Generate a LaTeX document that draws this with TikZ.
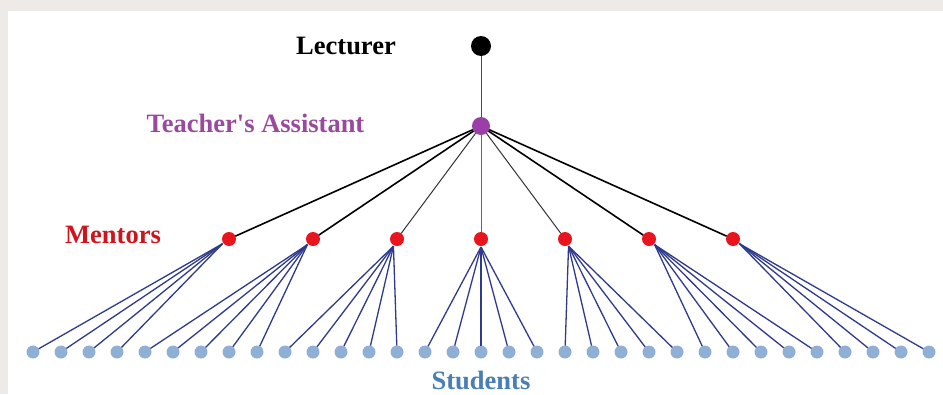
\documentclass[tikz,border=0pt]{standalone}
\usepackage{fontspec}
\setmainfont{Liberation Serif}
\usetikzlibrary{calc}
\definecolor{bandgray}{HTML}{EDEAE7}
\definecolor{tapurple}{HTML}{9B3FA8}
\definecolor{tatext}{HTML}{9A4A9E}
\definecolor{mentred}{HTML}{E8141E}
\definecolor{menttext}{HTML}{D0141E}
\definecolor{studblue}{HTML}{8FB0D4}
\definecolor{studtext}{HTML}{4A7FB5}
\definecolor{linkblue}{HTML}{2E3A8C}
\begin{document}
\begin{tikzpicture}[x=1pt,y=-1pt,
  dot/.style={circle,inner sep=0pt,outer sep=0pt},
  lect/.style={dot,fill=black,minimum size=20pt},
  ta/.style={dot,fill=tapurple,minimum size=18pt},
  mentor/.style={dot,fill=mentred,minimum size=14pt},
  student/.style={dot,fill=studblue,minimum size=13pt},
  lbl/.style={font=\fontsize{26.5}{30}\selectfont\bfseries,anchor=base,inner sep=0pt},
  tamain/.style={black,line width=1.6pt},
  tainner/.style={black!80,line width=1pt},
  slink/.style={linkblue,line width=1.3pt}]
\useasboundingbox (0,0) rectangle (943,394);
\fill[white] (0,0) rectangle (943,394);
\fill[bandgray] (0,0) rectangle (943,11);
\fill[bandgray] (0,0) rectangle (8,394);

\node[lect] (L) at (481,46) {};
\node[ta] (T) at (481,126) {};
\draw[black!70,line width=1pt] (L) -- (T);

\foreach \i in {1,...,7}{
  \node[mentor] (m\i) at ({229+84*(\i-1)},239) {};
}
\foreach \i in {1,...,33}{
  \node[student] (s\i) at ({33+28*(\i-1)},352) {};
}

\foreach \i in {1,2,6,7}{ \draw[tamain] (T) -- (m\i); }
\foreach \i in {3,5}{ \draw[tainner] (T) -- (m\i); }
\draw[black!60,line width=1pt] (T) -- (m4);

% fan-out points just below each mentor, toward the middle of its group
\coordinate (c1) at ($(m1)!8pt!($(s2)!0.5!(s3)$)$);
\coordinate (c2) at ($(m2)!8pt!(s7)$);
\coordinate (c3) at ($(m3)!8pt!(s12)$);
\coordinate (c4) at ($(m4)!8pt!(s17)$);
\coordinate (c5) at ($(m5)!8pt!(s22)$);
\coordinate (c6) at ($(m6)!8pt!(s27)$);
\coordinate (c7) at ($(m7)!8pt!($(s31)!0.5!(s32)$)$);

\foreach \s in {1,...,4}{ \draw[slink] (c1) -- (s\s); }
\foreach \s in {5,...,9}{ \draw[slink] (c2) -- (s\s); }
\foreach \s in {10,...,14}{ \draw[slink] (c3) -- (s\s); }
\foreach \s in {15,...,19}{ \draw[slink] (c4) -- (s\s); }
\foreach \s in {20,...,24}{ \draw[slink] (c5) -- (s\s); }
\foreach \s in {25,...,29}{ \draw[slink] (c6) -- (s\s); }
\foreach \s in {30,...,33}{ \draw[slink] (c7) -- (s\s); }

\node[lbl,black] (tl) at (346,54) {Lecturer};
\node[lbl,text=tatext] (tt) at (255.5,132) {Teacher\textquotesingle s Assistant};
\node[lbl,text=menttext] (tm) at (113,243) {Mentors};
\node[lbl,text=studtext] (ts) at (481,389) {Students};
\end{tikzpicture}
\end{document}
